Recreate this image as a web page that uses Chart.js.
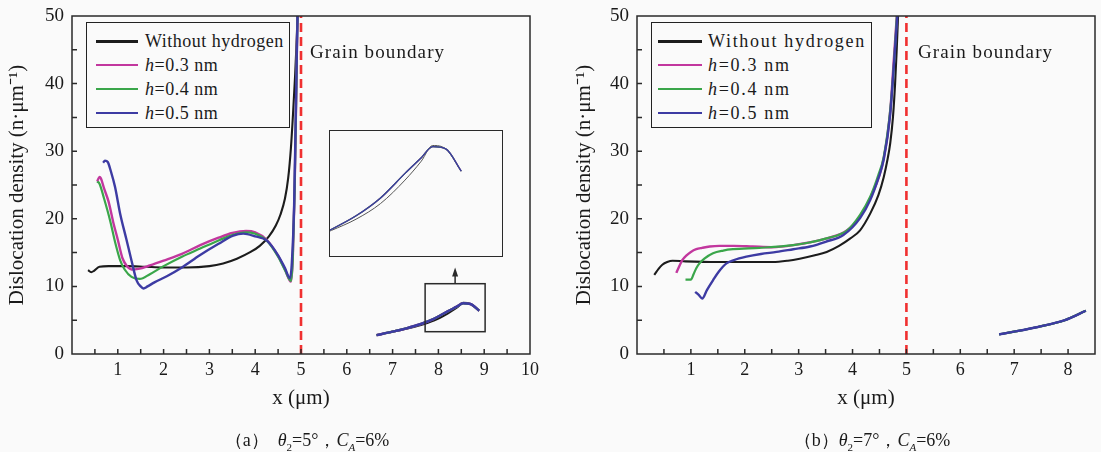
<!DOCTYPE html>
<html>
<head>
<meta charset="utf-8">
<script src="https://cdn.jsdelivr.net/npm/chart.js@4.4.1/dist/chart.umd.min.js"></script>
<style>
body { margin: 0; background: #fafafa; width: 1101px; height: 452px; position: relative; overflow: hidden;
       font-family: "Liberation Serif", serif; color: #1a1a1a; }
.panel { position: absolute; top: 0; height: 452px; }
#wrapA { left: 0; width: 550px; }
#wrapB { left: 550px; width: 551px; }
#wrapInset { position: absolute; left: 329px; top: 130px; width: 172px; height: 125px; border: 1.5px solid #2a2a2a; background: #fafafa; }
.legend { position: absolute; top: 22px; height: 104px; border: 1.5px solid #222; background: #fafafa; font-size: 18px; }
.legend .row { position: absolute; left: 0; right: 0; height: 24px; line-height: 24px; white-space: nowrap; }
.legend .ln { position: absolute; top: 11px; height: 2.6px; }
.legend .tx { position: absolute; top: 0; }
.gb { position: absolute; top: 42px; font-size: 19px; line-height: 19px; letter-spacing: 1.1px; }
.cap { position: absolute; top: 429px; width: 300px; text-align: center; font-size: 18px; line-height: 22px; }
.cap sub { font-size: 11px; }
</style>
</head>
<body>
<div class="panel" id="wrapA"><canvas id="chartA"></canvas></div>
<div class="panel" id="wrapB"><canvas id="chartB"></canvas></div>
<div id="wrapInset"><canvas id="chartInset"></canvas></div>

<div class="legend" id="legA" style="left:86px;width:202px;letter-spacing:0.5px;"></div>
<div class="legend" id="legB" style="left:651px;width:219px;letter-spacing:1.7px;"></div>

<div class="gb" style="left:310px;">Grain boundary</div>
<div class="gb" style="left:918px;">Grain boundary</div>

<div class="cap" style="left:157px;">（a）&ensp;<i>θ</i><sub>2</sub>=5°，<i>C</i><sub><i>A</i></sub>=6%</div>
<div class="cap" style="left:722px;">（b）<i>θ</i><sub>2</sub>=7°，<i>C</i><sub><i>A</i></sub>=6%</div>

<script>
// legend labels and colours
const seriesLabels = ['Without hydrogen', '<i>h</i>=0.3 nm', '<i>h</i>=0.4 nm', '<i>h</i>=0.5 nm'];
const seriesColors = ['#1c1c1c', '#c2379e', '#3aa64a', '#3d3ba3'];
const gbColor = '#f03030';

// panel (a): theta2 = 5 deg
const aBlackX = [0.35, 0.42, 0.48, 0.6, 0.8, 1.2, 1.6, 2.0, 2.5, 3.0, 3.3, 3.6, 3.9, 4.1, 4.3, 4.45, 4.55, 4.65, 4.72, 4.78, 4.83, 4.87, 4.9, 4.93];
const aBlackY = [12.4, 12.1, 12.3, 12.9, 13.0, 13.0, 12.9, 12.8, 12.8, 13.0, 13.4, 14.1, 15.1, 16.0, 17.4, 19.0, 20.6, 23.0, 26.0, 30.5, 36.0, 41.0, 45.5, 51];
const aMagX = [0.55, 0.6, 0.63, 0.7, 0.8, 0.9, 1.0, 1.1, 1.2, 1.3, 1.45, 1.7, 2.0, 2.4, 2.8, 3.2, 3.5, 3.8, 4.0, 4.25, 4.5, 4.65, 4.78, 4.82, 4.86, 4.89, 4.91, 4.93];
const aMagY = [25.5, 26.2, 26.0, 24.5, 22.5, 19.5, 16.9, 14.2, 13.0, 12.5, 12.6, 13.1, 13.8, 14.8, 16.1, 17.2, 17.9, 18.2, 18.0, 16.9, 14.5, 12.5, 10.7, 14, 24, 36, 45, 52];
const aGreenX = [0.55, 0.6, 0.7, 0.83, 0.95, 1.05, 1.15, 1.3, 1.48, 1.7, 2.0, 2.4, 2.8, 3.2, 3.5, 3.8, 4.0, 4.25, 4.5, 4.65, 4.78, 4.82, 4.86, 4.89, 4.91, 4.93];
const aGreenY = [25.5, 25.2, 23.0, 19.8, 16.3, 13.9, 12.5, 11.4, 11.1, 11.8, 13.0, 14.4, 15.6, 16.8, 17.6, 18.0, 17.8, 16.8, 14.4, 12.4, 10.8, 14, 24, 36, 45, 52];
const aBlueX = [0.68, 0.72, 0.78, 0.85, 0.94, 1.05, 1.19, 1.3, 1.41, 1.5, 1.56, 1.65, 1.8, 2.07, 2.4, 2.79, 3.2, 3.52, 3.74, 4.0, 4.25, 4.5, 4.65, 4.76, 4.8, 4.85, 4.88, 4.91, 4.93];
const aBlueY = [28.3, 28.6, 28.4, 27.0, 24.7, 20.8, 16.9, 13.8, 10.9, 10.0, 9.7, 10.0, 10.6, 11.5, 12.8, 14.6, 16.3, 17.5, 17.8, 17.4, 16.8, 14.6, 12.7, 11.2, 13.5, 22, 33, 45, 52];
// right of the grain boundary
const aRightX = [6.65, 7.0, 7.3, 7.6, 7.9, 8.2, 8.4, 8.54, 8.7, 8.89];
const aRightY = [2.8, 3.3, 3.8, 4.4, 5.2, 6.3, 7.0, 7.5, 7.4, 6.4];
const aRightBlackY = [2.8, 3.3, 3.75, 4.25, 4.95, 6.0, 6.85, 7.55, 7.4, 6.4];

// panel (b): theta2 = 7 deg
const bBlackX = [0.32, 0.4, 0.47, 0.56, 0.66, 0.9, 1.5, 2.0, 2.52, 2.8, 3.02, 3.3, 3.52, 3.75, 3.96, 4.14, 4.33, 4.48, 4.58, 4.65, 4.7, 4.75, 4.79, 4.82, 4.85];
const bBlackY = [11.7, 12.6, 13.2, 13.6, 13.8, 13.7, 13.6, 13.6, 13.6, 13.8, 14.1, 14.6, 15.1, 16.0, 17.1, 18.3, 20.8, 23.5, 26.2, 28.8, 31.2, 35, 40, 45, 51];
const bMagX = [0.73, 0.78, 0.84, 0.92, 1.0, 1.1, 1.21, 1.35, 1.53, 1.8, 2.15, 2.5, 2.9, 3.52, 3.9, 4.14, 4.33, 4.58, 4.7, 4.77, 4.83];
const bMagY = [12.0, 12.9, 13.9, 14.6, 15.1, 15.5, 15.7, 15.9, 16.0, 16.0, 15.9, 15.8, 16.1, 17.1, 18.3, 20.4, 23.1, 29.0, 36.0, 44, 51];
const bGreenX = [0.9, 1.0, 1.05, 1.1, 1.16, 1.25, 1.41, 1.6, 1.78, 2.27, 2.9, 3.2, 3.52, 3.9, 4.14, 4.33, 4.48, 4.58, 4.7, 4.77, 4.83];
const bGreenY = [11.0, 11.0, 11.8, 12.7, 13.4, 14.1, 14.9, 15.3, 15.5, 15.7, 16.1, 16.5, 17.1, 18.3, 20.6, 23.3, 26.5, 29.2, 36.1, 43, 51];
const bBlueX = [1.08, 1.15, 1.21, 1.3, 1.41, 1.52, 1.66, 1.8, 2.03, 2.3, 2.59, 2.9, 3.21, 3.5, 3.83, 4.14, 4.33, 4.48, 4.58, 4.7, 4.77, 4.84];
const bBlueY = [9.2, 8.7, 8.2, 9.5, 10.9, 12.2, 13.4, 13.9, 14.4, 14.8, 15.1, 15.5, 15.9, 16.6, 17.6, 20.1, 22.8, 26.0, 28.8, 35.5, 43, 51];
const bRightX = [6.72, 7.0, 7.44, 7.94, 8.33];
const bRightY = [2.9, 3.3, 4.0, 5.0, 6.4];

// axes
const gbX = 5;
const yRange = [0, 50];
const aXRange = [0, 10];
const bXRange = [0, 8.5];
const insetXRange = [7.28, 9.39];
const insetYRange = [2.6, 8.2];
const zoomBoxX = [7.71, 9.02];
const zoomBoxY = [3.3, 10.4];
const arrowTipY = 12.8;

const FONT = '"Liberation Serif", "Times New Roman", serif';
Chart.defaults.font.family = FONT;
Chart.defaults.color = '#1a1a1a';

function pts(xs, ys) {
    return xs.map((x, i) => ({ x: x, y: ys[i] }));
}

function line(data, color, width, order) {
    return {
        data: data,
        borderColor: color,
        borderWidth: width,
        pointRadius: 0,
        fill: false,
        cubicInterpolationMode: 'monotone',
        order: order
    };
}

function gbLine() {
    return {
        data: pts([gbX, gbX], yRange),
        borderColor: gbColor,
        borderWidth: 2.6,
        borderDash: [9, 5],
        pointRadius: 0,
        tension: 0,
        order: -1
    };
}

// box round the plot and inward tick marks
const frameTicks = {
    id: 'frameTicks',
    afterDatasetsDraw(chart) {
        const { ctx, chartArea: a, scales: { x, y } } = chart;
        ctx.save();
        ctx.strokeStyle = '#2a2a2a';
        ctx.lineWidth = 1.5;
        ctx.strokeRect(a.left, a.top, a.right - a.left, a.bottom - a.top);
        ctx.beginPath();
        x.ticks.forEach(t => {
            const px = x.getPixelForValue(t.value);
            if (px <= a.left + 1 || px >= a.right - 1) return;
            ctx.moveTo(px, a.bottom);
            ctx.lineTo(px, a.bottom - 5);
        });
        y.ticks.forEach(t => {
            const py = y.getPixelForValue(t.value);
            if (py <= a.top + 1 || py >= a.bottom - 1) return;
            ctx.moveTo(a.left, py);
            ctx.lineTo(a.left + 5, py);
        });
        ctx.stroke();
        ctx.restore();
    }
};

// small box marking the zoomed region plus arrow to the inset
const zoomMark = {
    id: 'zoomMark',
    afterDatasetsDraw(chart) {
        const { ctx, scales: { x, y } } = chart;
        const x0 = x.getPixelForValue(zoomBoxX[0]), x1 = x.getPixelForValue(zoomBoxX[1]);
        const y0 = y.getPixelForValue(zoomBoxY[1]), y1 = y.getPixelForValue(zoomBoxY[0]);
        const cx = (x0 + x1) / 2;
        const tip = y.getPixelForValue(arrowTipY);
        ctx.save();
        ctx.strokeStyle = '#2a2a2a';
        ctx.fillStyle = '#2a2a2a';
        ctx.lineWidth = 1.5;
        ctx.strokeRect(x0, y0, x1 - x0, y1 - y0);
        ctx.beginPath();
        ctx.moveTo(cx, y0);
        ctx.lineTo(cx, tip + 8);
        ctx.stroke();
        ctx.beginPath();
        ctx.moveTo(cx, tip);
        ctx.lineTo(cx - 3, tip + 9);
        ctx.lineTo(cx + 3, tip + 9);
        ctx.closePath();
        ctx.fill();
        ctx.restore();
    }
};

function axes(xRange, yWidth) {
    return {
        x: {
            type: 'linear',
            min: xRange[0], max: xRange[1],
            grid: { display: false, drawTicks: false },
            border: { display: false },
            ticks: {
                stepSize: 0.5, autoSkip: false, maxRotation: 0, padding: 5,
                font: { size: 18 },
                callback: v => (Number.isInteger(v) && v !== 0) ? v : ''
            },
            title: { display: true, text: 'x (μm)', font: { size: 21 }, padding: { top: 4, bottom: 4 } },
            afterFit: s => { s.height = 61; s.paddingLeft = 0; s.paddingRight = 0; }
        },
        y: {
            type: 'linear',
            min: yRange[0], max: yRange[1],
            grid: { display: false, drawTicks: false },
            border: { display: false },
            ticks: {
                stepSize: 5, padding: 8,
                font: { size: 19 },
                callback: v => (v % 10 === 0) ? v : ''
            },
            title: { display: true, text: 'Dislocation density (n·μm⁻¹)', font: { size: 21 }, padding: { top: 5, bottom: 0 } },
            afterFit: s => { s.width = yWidth; s.paddingTop = 0; s.paddingBottom = 0; }
        }
    };
}

function baseOptions(xRange, yWidth, padding) {
    return {
        responsive: true,
        maintainAspectRatio: false,
        animation: false,
        devicePixelRatio: 1,
        layout: { padding: padding },
        plugins: { legend: { display: false }, tooltip: { enabled: false } },
        scales: axes(xRange, yWidth)
    };
}

new Chart(document.getElementById('chartA'), {
    type: 'line',
    data: {
        datasets: [
            line(pts(aBlackX, aBlackY), seriesColors[0], 2.1, 3),
            line(pts(aMagX, aMagY), seriesColors[1], 2.4, 2),
            line(pts(aGreenX, aGreenY), seriesColors[2], 2.2, 1),
            line(pts(aBlueX, aBlueY), seriesColors[3], 2.4, 0),
            line(pts(aRightX, aRightBlackY), seriesColors[0], 2.2, 3),
            line(pts(aRightX, aRightY), seriesColors[1], 2.4, 2),
            line(pts(aRightX, aRightY), seriesColors[2], 2.2, 1),
            line(pts(aRightX, aRightY), seriesColors[3], 2.4, 0),
            gbLine()
        ]
    },
    options: baseOptions(aXRange, 72, { left: 0, right: 20, top: 16, bottom: 37 }),
    plugins: [frameTicks, zoomMark]
});

new Chart(document.getElementById('chartB'), {
    type: 'line',
    data: {
        datasets: [
            line(pts(bBlackX, bBlackY), seriesColors[0], 2.1, 3),
            line(pts(bMagX, bMagY), seriesColors[1], 2.4, 2),
            line(pts(bGreenX, bGreenY), seriesColors[2], 2.2, 1),
            line(pts(bBlueX, bBlueY), seriesColors[3], 2.4, 0),
            line(pts(bRightX, bRightY), seriesColors[0], 2.2, 3),
            line(pts(bRightX, bRightY), seriesColors[2], 2.2, 1),
            line(pts(bRightX, bRightY), seriesColors[3], 2.4, 0),
            gbLine()
        ]
    },
    options: baseOptions(bXRange, 70, { left: 17, right: 6, top: 16, bottom: 37 }),
    plugins: [frameTicks]
});

// blown-up view of the region in the small box
new Chart(document.getElementById('chartInset'), {
    type: 'line',
    data: {
        datasets: [
            line(pts(aRightX, aRightBlackY), '#555555', 1, 3),
            line(pts(aRightX, aRightY), seriesColors[1], 1.3, 2),
            line(pts(aRightX, aRightY), seriesColors[2], 1.2, 1),
            line(pts(aRightX, aRightY), seriesColors[3], 1.3, 0)
        ]
    },
    options: {
        responsive: true,
        maintainAspectRatio: false,
        animation: false,
        devicePixelRatio: 1,
        layout: { padding: 0 },
        plugins: { legend: { display: false }, tooltip: { enabled: false } },
        scales: {
            x: { type: 'linear', display: false, min: insetXRange[0], max: insetXRange[1] },
            y: { type: 'linear', display: false, min: insetYRange[0], max: insetYRange[1] }
        }
    }
});

function buildLegend(id, lineLeft, lineWidth, textLeft) {
    const box = document.getElementById(id);
    const rowTops = [6, 29.5, 53.5, 77.5];
    seriesLabels.forEach((label, i) => {
        const row = document.createElement('div');
        row.className = 'row';
        row.style.top = rowTops[i] + 'px';
        row.innerHTML = `<div class="ln" style="left:${lineLeft}px;width:${lineWidth}px;background:${seriesColors[i]}"></div>` +
                        `<span class="tx" style="left:${textLeft}px">${label}</span>`;
        box.appendChild(row);
    });
}

buildLegend('legA', 9, 42, 58);
buildLegend('legB', 6, 44, 56);
</script>
</body>
</html>
